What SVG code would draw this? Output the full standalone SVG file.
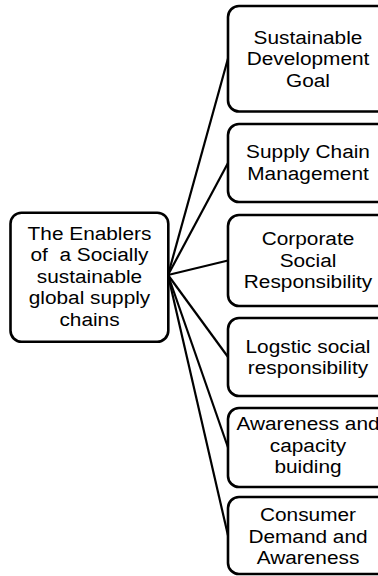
<svg xmlns="http://www.w3.org/2000/svg" width="378" height="576" viewBox="0 0 378 576">
  <style>
    .box { fill: #ffffff; stroke: #000000; stroke-width: 2.6; }
    .link { stroke: #000000; stroke-width: 2.2; fill: none; }
    text { font-family: "Liberation Sans", Arial, sans-serif; font-size: 18.6px; fill: #000000; text-anchor: middle; white-space: pre; }
  </style>
  <rect width="378" height="576" fill="#ffffff"/>

  <g id="connectors">
    <line class="link" x1="168" y1="275" x2="228" y2="58.5"/>
    <line class="link" x1="168" y1="275" x2="228" y2="163"/>
    <line class="link" x1="168" y1="275" x2="228" y2="260.5"/>
    <line class="link" x1="168" y1="275" x2="228" y2="357"/>
    <line class="link" x1="168" y1="275" x2="228" y2="447.5"/>
    <line class="link" x1="168" y1="275" x2="228" y2="535.5"/>
  </g>

  <g id="root">
    <rect class="box" x="10.5" y="212.7" width="157.8" height="129" rx="11"/>
    <g transform="translate(89.5 0) scale(1.12 1)">
      <text x="0" y="240">The Enablers</text>
      <text x="0" y="261.5" xml:space="preserve">of  a Socially</text>
      <text x="0" y="283">sustainable</text>
      <text x="0" y="304.5">global supply</text>
      <text x="0" y="326">chains</text>
    </g>
  </g>

  <g id="sdg">
    <rect class="box" x="228" y="6" width="165" height="105.5" rx="11"/>
    <g transform="translate(308 0) scale(1.12 1)">
      <text x="0" y="44">Sustainable</text>
      <text x="0" y="65.3">Development</text>
      <text x="0" y="86.7">Goal</text>
    </g>
  </g>

  <g id="scm">
    <rect class="box" x="228" y="124" width="165" height="78" rx="11"/>
    <g transform="translate(308 0) scale(1.12 1)">
      <text x="0" y="158.5">Supply Chain</text>
      <text x="0" y="180">Management</text>
    </g>
  </g>

  <g id="csr">
    <rect class="box" x="228" y="215" width="165" height="91" rx="11"/>
    <g transform="translate(308 0) scale(1.12 1)">
      <text x="0" y="245.5">Corporate</text>
      <text x="0" y="266.8">Social</text>
      <text x="0" y="288">Responsibility</text>
    </g>
  </g>

  <g id="lsr">
    <rect class="box" x="228" y="318" width="165" height="78" rx="11"/>
    <g transform="translate(308 0) scale(1.12 1)">
      <text x="0" y="353">Logstic social</text>
      <text x="0" y="374.5">responsibility</text>
    </g>
  </g>

  <g id="awareness">
    <rect class="box" x="228" y="408" width="165" height="79" rx="11"/>
    <g transform="translate(308 0) scale(1.12 1)">
      <text x="0" y="430.5">Awareness and</text>
      <text x="0" y="452">capacity</text>
      <text x="0" y="473.5">buiding</text>
    </g>
  </g>

  <g id="consumer">
    <rect class="box" x="228" y="497" width="165" height="77" rx="11"/>
    <g transform="translate(308 0) scale(1.12 1)">
      <text x="0" y="521.5">Consumer</text>
      <text x="0" y="543">Demand and</text>
      <text x="0" y="564.5">Awareness</text>
    </g>
  </g>
</svg>
